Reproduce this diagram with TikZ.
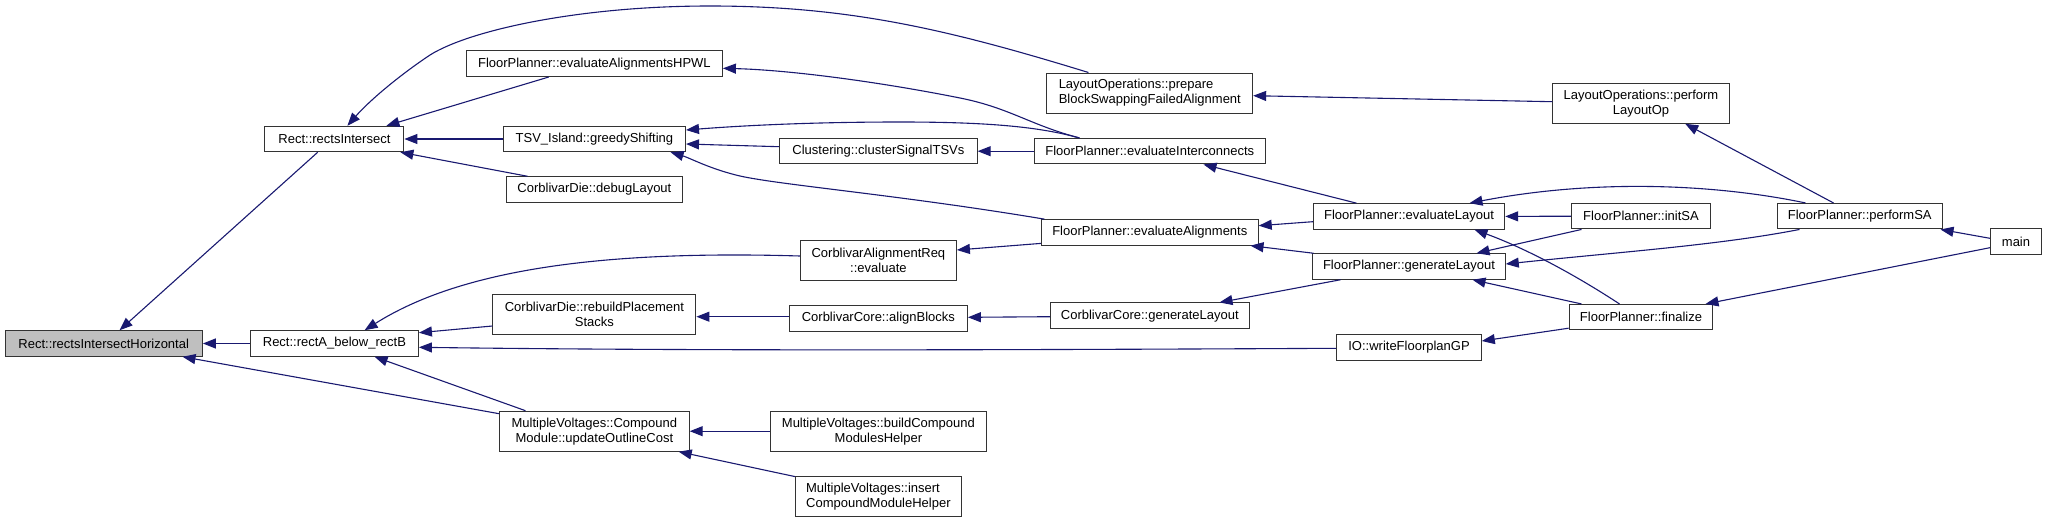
\documentclass[tikz,border=0pt]{standalone}
\usepackage{fontspec}
\setmainfont{Liberation Sans}
\usetikzlibrary{arrows.meta,calc}
\definecolor{edgeblue}{HTML}{191970}
\definecolor{nodegray}{HTML}{BFBFBF}
\begin{document}
\begin{tikzpicture}[x=1pt,y=-1pt,
  box/.style={draw=black!80, line width=1pt, fill=white, inner sep=0pt, align=center,
    font=\fontsize{13}{15}\selectfont},
  lbox/.style={box, align=left},
  one/.style={minimum height=25.5pt},
  two/.style={minimum height=40pt},
  edge/.style={draw=edgeblue, line width=1.1pt, -{Triangle[length=13pt,width=10pt]}}]
\useasboundingbox (0,0) rectangle (2047,525);

% column 0
\node[box, one, fill=nodegray, minimum width=197.3pt] (RIH) at (103.7,343.5) {Rect::rectsIntersectHorizontal};
% column 1
\node[box, one, minimum width=139pt] (RI) at (334.4,139) {Rect::rectsIntersect};
\node[box, one, minimum width=168pt] (RAB) at (334.4,343.5) {Rect::rectA\_below\_rectB};
% column 2
\node[box, one, minimum width=256pt] (HPWL) at (594.4,63.7) {FloorPlanner::evaluateAlignmentsHPWL};
\node[box, one, minimum width=182.2pt] (GS) at (594.4,139) {TSV\_Island::greedyShifting};
\node[box, one, minimum width=176pt] (DL) at (594.4,189.5) {CorblivarDie::debugLayout};
\node[box, two, minimum width=203pt] (RPS) at (594.4,314.3) {CorblivarDie::rebuildPlacement\\Stacks};
\node[box, two, minimum width=189.6pt] (MVC) at (594.4,431.2) {MultipleVoltages::Compound\\Module::updateOutlineCost};
% column 3
\node[box, one, minimum width=197.5pt] (CL) at (878.4,151.2) {Clustering::clusterSignalTSVs};
\node[box, two, minimum width=156pt] (CAR) at (878.4,260) {CorblivarAlignmentReq\\::evaluate};
\node[box, one, minimum width=178pt] (AB) at (878.4,318.5) {CorblivarCore::alignBlocks};
\node[box, two, minimum width=216.4pt] (BCM) at (878.4,431.2) {MultipleVoltages::buildCompound\\ModulesHelper};
\node[lbox, two, minimum width=165.7pt] (ICM) at (878.4,496.5) {MultipleVoltages::insert\\CompoundModuleHelper};
% column 4
\node[lbox, two, minimum width=205.7pt] (LOP) at (1149.8,93) {LayoutOperations::prepare\\BlockSwappingFailedAlignment};
\node[box, one, minimum width=231.1pt] (EI) at (1149.8,151.2) {FloorPlanner::evaluateInterconnects};
\node[box, one, minimum width=216.8pt] (EA) at (1149.8,232.4) {FloorPlanner::evaluateAlignments};
\node[box, one, minimum width=198.5pt] (CCGL) at (1149.8,315.7) {CorblivarCore::generateLayout};
% column 5
\node[box, one, minimum width=191.4pt] (EL) at (1409,216.4) {FloorPlanner::evaluateLayout};
\node[box, one, minimum width=192.5pt] (GL) at (1409,266.5) {FloorPlanner::generateLayout};
\node[box, one, minimum width=144.6pt] (IO) at (1409,347.5) {IO::writeFloorplanGP};
% column 6
\node[box, two, minimum width=176.5pt] (LOPerf) at (1641,103.3) {LayoutOperations::perform\\LayoutOp};
\node[box, one, minimum width=139.2pt] (ISA) at (1641,216.2) {FloorPlanner::initSA};
\node[box, one, minimum width=143.8pt] (FIN) at (1641,317.2) {FloorPlanner::finalize};
% column 7
\node[box, one, minimum width=165.4pt] (PSA) at (1859.7,216.2) {FloorPlanner::performSA};
% column 8
\node[box, one, minimum width=51.2pt] (main) at (2016,241.5) {main};

% edges: caller -> callee
\draw[edge] ($(RI.south west)+(53.3,0)$) -- ($(RIH.north west)+(115,0)$);
\draw[edge] (RAB.west) -- (RIH.east);
\draw[edge] ($(MVC.north west)+(0,3)$) -- ($(RIH.south west)+(178,0)$);
\draw[edge] ($(LOP.north west)+(42,0)$) .. controls (950,30) and (850,6) .. (710,6)
   .. controls (580,6) and (470,30) .. (430,55)
   .. controls (400,75) and (370,100) .. ($(RI.north west)+(83,0)$);
\draw[edge] ($(HPWL.south west)+(83,0)$) -- ($(RI.north west)+(122,0)$);
\draw[edge] (GS.west) -- (RI.east);
\draw[edge] ($(DL.north west)+(21.5,0)$) -- ($(RI.south east)+(-4,0)$);
\draw[edge] ($(EI.north west)+(45.7,0)$) .. controls (1030,125) and (1010,108) .. (960,98)
   .. controls (880,82) and (790,70) .. ($(HPWL.east)+(0,4.6)$);
\draw[edge] ($(EI.north west)+(45.7,0)$) .. controls (1040,127) and (990,122) .. (900,122)
   .. controls (820,122) and (750,125) .. ($(GS.east)+(0,-9)$);
\draw[edge] ($(CL.west)+(0,-4.5)$) -- ($(GS.east)+(0,5)$);
\draw[edge] ($(EA.north west)+(3.6,0)$) .. controls (900,195) and (780,185) .. (740,176)
   .. controls (710,169) and (690,158) .. ($(GS.south east)+(-15.4,0)$);
\draw[edge] (EI.west) -- (CL.east);
\draw[edge] ($(EL.north west)+(43.7,0)$) -- ($(EI.south west)+(169.75,0)$);
\draw[edge] ($(EL.west)+(0,5.3)$) -- ($(EA.east)+(0,-6.7)$);
\draw[edge] ($(GL.north west)+(1.3,0)$) -- ($(EA.south east)+(-8.2,0)$);
\draw[edge] ($(CAR.west)+(0,-4)$) .. controls (600,250) and (460,270) .. ($(RAB.north west)+(114.7,0)$);
\draw[edge] ($(EA.west)+(0,11)$) -- ($(CAR.east)+(0,-10)$);
\draw[edge] ($(RPS.west)+(0,11.7)$) -- ($(RAB.east)+(0,-10.8)$);
\draw[edge] ($(AB.west)+(0,-1.8)$) -- ($(RPS.east)+(0,2.4)$);
\draw[edge] ($(CCGL.west)+(0,1)$) -- ($(AB.east)+(0,-1.2)$);
\draw[edge] ($(GL.south west)+(28.25,0)$) -- ($(CCGL.north west)+(169.45,0)$);
\draw[edge] ($(IO.west)+(0,0.8)$) .. controls (1000,350) and (700,351) .. ($(RAB.east)+(0,3.8)$);
\draw[edge] ($(MVC.north west)+(26.4,0)$) -- ($(RAB.south west)+(124.7,0)$);
\draw[edge] (BCM.west) -- (MVC.east);
\draw[edge] ($(ICM.north west)+(0,0.6)$) -- ($(MVC.south east)+(-11,0)$);
\draw[edge] ($(PSA.north west)+(57,0)$) -- ($(LOPerf.south west)+(133,0)$);
\draw[edge] ($(LOPerf.west)+(0,-1.6)$) -- ($(LOP.east)+(0,2.7)$);
\draw[edge] (ISA.west) -- (EL.east);
\draw[edge] ($(PSA.north west)+(29,0)$) .. controls (1720,185) and (1600,178) .. ($(EL.north west)+(156.7,0)$);
\draw[edge] ($(ISA.south west)+(10.6,0)$) -- ($(GL.north west)+(164.25,0)$);
\draw[edge] ($(PSA.south west)+(23,0)$) .. controls (1720,245) and (1620,252) .. ($(GL.east)+(0,-2.5)$);
\draw[edge] ($(FIN.north west)+(50.9,0)$) .. controls (1580,278) and (1530,250) .. ($(EL.south west)+(161.7,0)$);
\draw[edge] ($(FIN.north west)+(12.9,0)$) -- ($(GL.south west)+(160.25,0)$);
\draw[edge] ($(main.west)+(0,-3.2)$) -- ($(PSA.south east)+(-2.4,0)$);
\draw[edge] ($(main.west)+(0,6.2)$) -- ($(FIN.north east)+(-7.9,0)$);
\draw[edge] ($(FIN.west)+(0,11)$) -- ($(IO.east)+(0,-6.5)$);
\end{tikzpicture}
\end{document}
